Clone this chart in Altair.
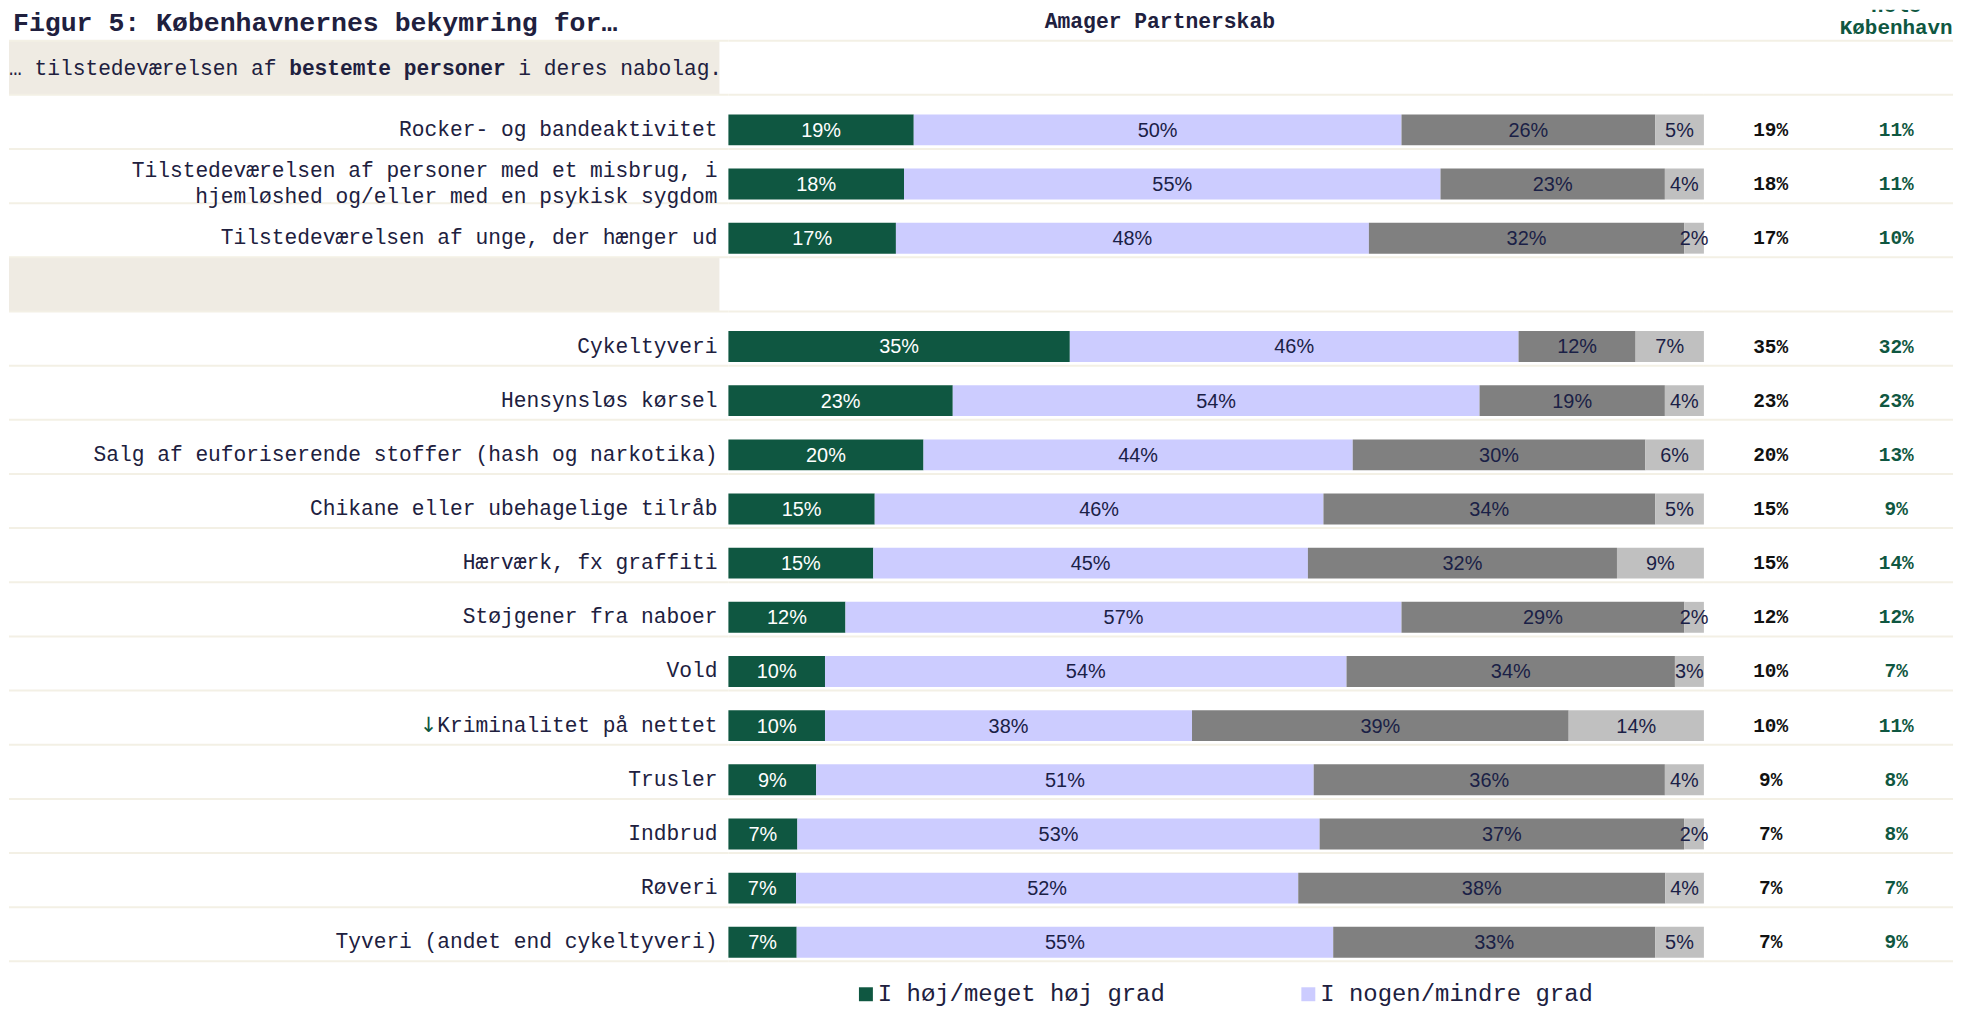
import altair as alt
import pandas as pd

# ---------------- data ----------------
labels = [
    "Rocker- og bandeaktivitet",
    "Tilstedeværelsen af personer med et misbrug, i\nhjemløshed og/eller med en psykisk sygdom",
    "Tilstedeværelsen af unge, der hænger ud",
    "Cykeltyveri",
    "Hensynsløs kørsel",
    "Salg af euforiserende stoffer (hash og narkotika)",
    "Chikane eller ubehagelige tilråb",
    "Hærværk, fx graffiti",
    "Støjgener fra naboer",
    "Vold",
    "Kriminalitet på nettet",
    "Trusler",
    "Indbrud",
    "Røveri",
    "Tyveri (andet end cykeltyveri)",
]
high = [19, 18, 17, 35, 23, 20, 15, 15, 12, 10, 10, 9, 7, 7, 7]
some = [50, 55, 48, 46, 54, 44, 46, 45, 57, 54, 38, 51, 53, 52, 55]
low = [26, 23, 32, 12, 19, 30, 34, 32, 29, 34, 39, 36, 37, 38, 33]
rest = [5, 4, 2, 7, 4, 6, 5, 9, 2, 3, 14, 4, 2, 4, 5]
hele = [11, 11, 10, 32, 23, 13, 9, 14, 12, 7, 11, 8, 8, 7, 9]

categories = ["I høj/meget høj grad", "I nogen/mindre grad", "I lav grad/slet ikke", "Ved ikke"]
cat_colors = ["#0f5741", "#ccccff", "#808080", "#c0c0c0"]

title_text = "Figur 5: Københavnernes bekymring for…"
sub_parts = ["… tilstedeværelsen af", "bestemte personer", "i deres nabolag."]
sub_offsets_chars = [0, 22, 40]
arrow_row = "Kriminalitet på nettet"
header_main = "Amager Partnerskab"
header_city = "Hele\nKøbenhavn"

# ---------------- styles ----------------
MONO = "Liberation Mono"
SANS = "Liberation Sans"
NAVY = "#20203e"
BAR_TXT = "#1a2046"
GREEN = "#0f5741"
BEIGE = "#efebe3"
RULE = "#f3f0e5"

keys = [l.replace("\n", " ") for l in labels]
SUB, GAP = "__sub__", "__gap__"
domain = [SUB] + keys[:3] + [GAP] + keys[3:]

W_A, W_B, W_C = 722, 979, 250
H = 955
YR = [31, 955]
LFS = 21.3            # row label font size
CW = 0.6 * LFS        # monospace char width
LAB_X = 711


def yenc(band=None):
    kw = dict(scale=alt.Scale(domain=domain, range=YR, paddingInner=0, paddingOuter=0),
              axis=None, sort=None, title=None)
    if band is not None:
        kw["bandPosition"] = band
    return alt.Y("key:N", **kw)


def rules(width):
    top = alt.Chart(pd.DataFrame({"key": domain})).mark_rule(color=RULE, strokeWidth=2).encode(
        y=yenc(0), x=alt.value(0), x2=alt.value(width))
    bot = alt.Chart(pd.DataFrame({"key": [domain[-1]]})).mark_rule(color=RULE, strokeWidth=2).encode(
        y=yenc(1), x=alt.value(0), x2=alt.value(width))
    return [top, bot]


# ---------------- panel A: labels ----------------
bands = alt.Chart(pd.DataFrame({"key": [SUB, GAP]})).mark_rect(color=BEIGE).encode(
    y=yenc(), x=alt.value(0), x2=alt.value(713))

label_df = pd.DataFrame({"key": keys, "label": labels,
                         "multi": ["\n" in l for l in labels]})
lab_base = alt.Chart(label_df)
lab1 = lab_base.transform_filter("!datum.multi").mark_text(
    align="right", baseline="middle", font=MONO, fontSize=LFS, color=NAVY, yOffset=8).encode(
    y=yenc(), x=alt.value(LAB_X), text="label:N")
lab2 = lab_base.transform_filter("datum.multi").mark_text(
    align="right", baseline="middle", font=MONO, fontSize=LFS, color=NAVY,
    lineBreak="\n", lineHeight=26, yOffset=-5).encode(
    y=yenc(), x=alt.value(LAB_X), text="label:N")

arrow = alt.Chart(pd.DataFrame({"key": [arrow_row], "sym": ["↓"]})).mark_text(
    align="right", baseline="middle", font="DejaVu Sans", fontSize=21, color=GREEN,
    yOffset=8, dx=-len(arrow_row) * CW).encode(
    y=yenc(), x=alt.value(LAB_X), text="sym:N")

sub_layers = []
for part, off, w in zip(sub_parts, sub_offsets_chars, ["normal", "bold", "normal"]):
    sub_layers.append(
        alt.Chart(pd.DataFrame({"key": [SUB], "t": [part]})).mark_text(
            align="left", baseline="middle", font=MONO, fontSize=LFS, fontWeight=w,
            color=NAVY, yOffset=1).encode(y=yenc(), x=alt.value(off * CW), text="t:N"))

title = alt.Chart(pd.DataFrame({"t": [title_text]})).mark_text(
    align="left", baseline="middle", font=MONO, fontSize=26.6, fontWeight="bold",
    color=NAVY, clip=True).encode(x=alt.value(4), y=alt.value(13), text="t:N")

panelA = alt.layer(bands, *rules(W_A), lab1, lab2, arrow, *sub_layers, title).properties(
    width=W_A, height=H)

# ---------------- panel B: bars ----------------
rows = []
for i, k in enumerate(keys):
    for j, (c, v) in enumerate(zip(categories, [high[i], some[i], low[i], rest[i]])):
        rows.append({"key": k, "cat": c, "value": v, "order": j})
long_df = pd.DataFrame(rows)

base = alt.Chart(long_df).transform_stack(
    stack="value", groupby=["key"], as_=["v0", "v1"], offset="normalize",
    sort=[alt.SortField("order", order="ascending")]
).transform_calculate(mid="(datum.v0 + datum.v1) / 2", lbl="datum.value + '%'")

xs = alt.Scale(domain=[0, 1], nice=False, zero=False)

bars = base.mark_bar(size=31, yOffset=8).encode(
    y=yenc(),
    x=alt.X("v0:Q", scale=xs, axis=None),
    x2="v1:Q",
    color=alt.Color("cat:N", scale=alt.Scale(domain=categories, range=cat_colors),
                    legend=alt.Legend(
                        values=categories[:2], title=None, orient="none",
                        legendX=848, legendY=976, direction="horizontal", columns=2,
                        symbolType="square", symbolSize=196, symbolStrokeWidth=0,
                        labelFont=MONO, labelFontSize=24, labelColor=NAVY,
                        labelOffset=0, labelLimit=0, columnPadding=131, padding=0)),
)

btxt = base.mark_text(baseline="middle", align="center", font=SANS, fontSize=20, yOffset=9).encode(
    y=yenc(),
    x=alt.X("mid:Q", scale=xs, axis=None),
    text="lbl:N",
    color=alt.condition(alt.datum.cat == categories[0], alt.value("white"), alt.value(BAR_TXT)),
)

hdr = alt.Chart(pd.DataFrame({"t": [header_main]})).mark_text(
    align="center", baseline="middle", font=MONO, fontSize=21.4, fontWeight="bold",
    color=NAVY, clip=True).encode(x=alt.value(433), y=alt.value(12), text="t:N")

panelB = alt.layer(*rules(W_B), bars, btxt, hdr).properties(width=W_B, height=H)

# ---------------- panel C: numbers ----------------
num_df = pd.DataFrame({"key": keys,
                       "a": [f"{v}%" for v in high],
                       "h": [f"{v}%" for v in hele]})
numA = alt.Chart(num_df).mark_text(
    align="center", baseline="middle", font=MONO, fontSize=19.5, fontWeight="bold",
    color="#111111", yOffset=8).encode(y=yenc(), x=alt.value(67), text="a:N")
numH = alt.Chart(num_df).mark_text(
    align="center", baseline="middle", font=MONO, fontSize=19.5, fontWeight="bold",
    color=GREEN, yOffset=8).encode(y=yenc(), x=alt.value(193), text="h:N")
hdrC = alt.Chart(pd.DataFrame({"t": [header_city]})).mark_text(
    align="center", baseline="bottom", font=MONO, fontSize=21, fontWeight="bold",
    color=GREEN, lineBreak="\n", lineHeight=22, clip=True).encode(
    x=alt.value(193), y=alt.value(6), text="t:N")

panelC = alt.layer(*rules(W_C), numA, numH, hdrC).properties(width=W_C, height=H)

chart = alt.hconcat(panelA, panelB, panelC, spacing=0, bounds="flush").properties(
    padding=0
).configure_view(stroke=None)

chart.save("out.html", embed_options={"renderer": "svg", "actions": False})
